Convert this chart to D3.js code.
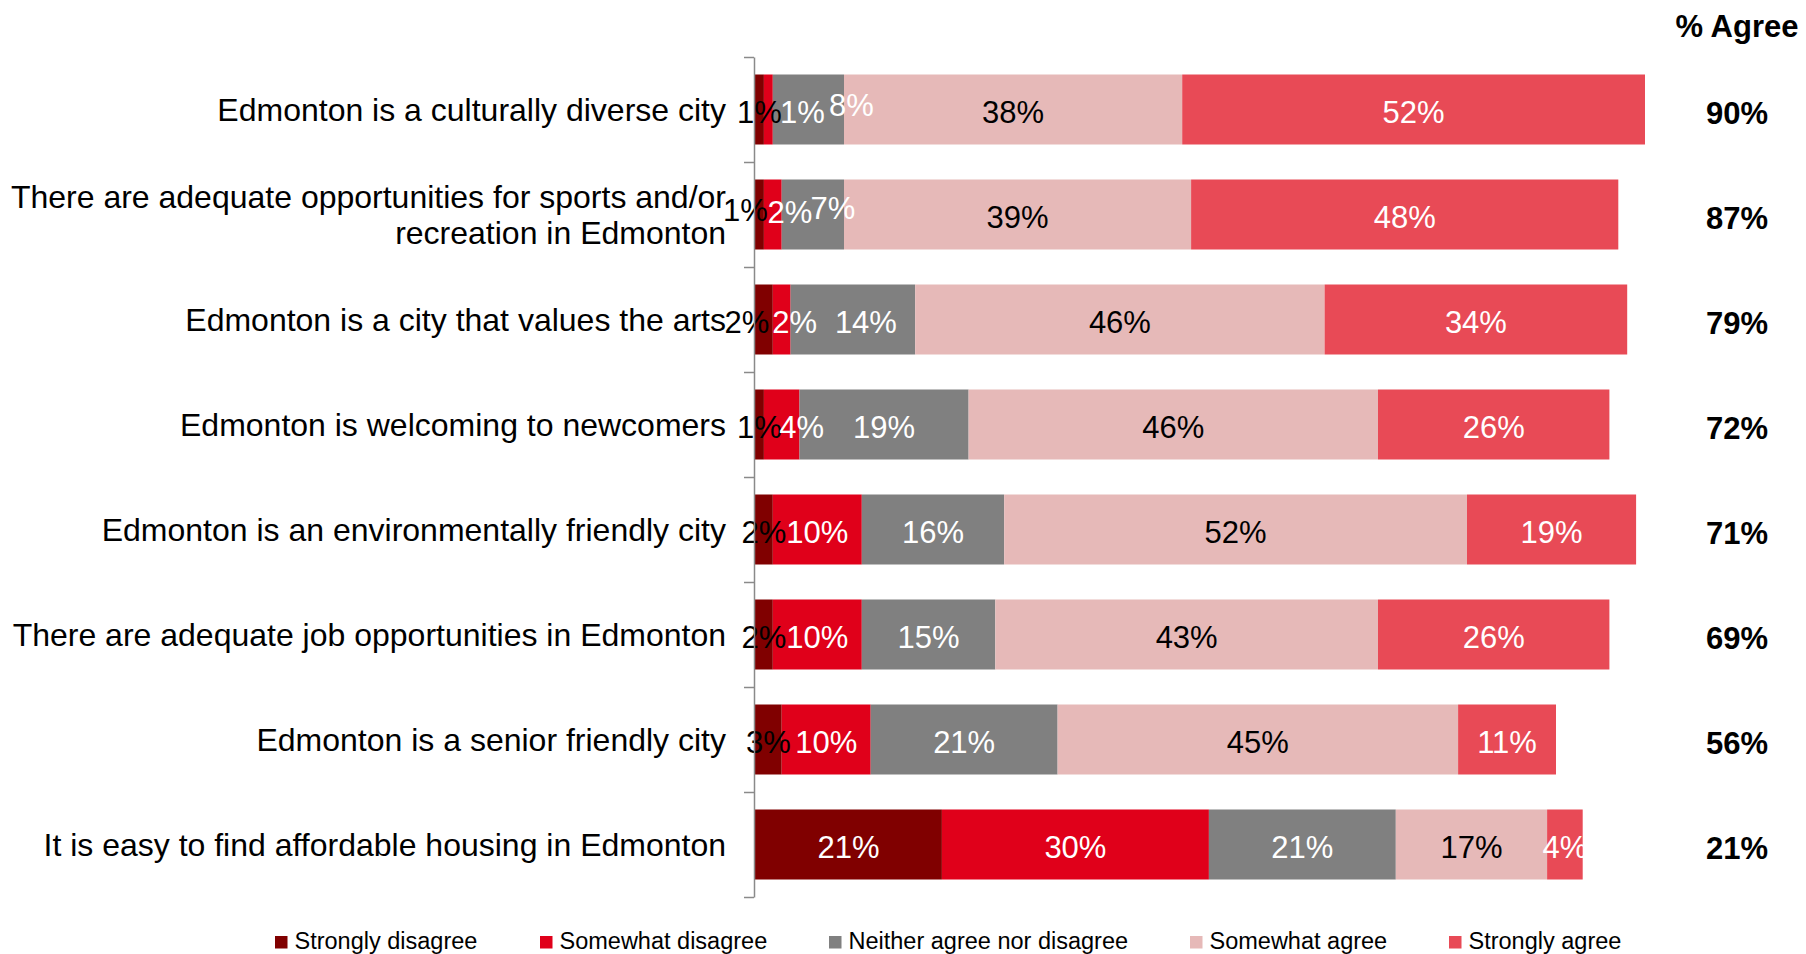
<!DOCTYPE html>
<html>
<head>
<meta charset="utf-8">
<script src="https://cdn.jsdelivr.net/npm/d3@7"></script>
<style>
  html, body { margin: 0; padding: 0; background: #fff; }
  svg { display: block; font-family: "Liberation Sans", Arial, Helvetica, sans-serif; }
</style>
</head>
<body>
<svg id="chart" width="1806" height="954"></svg>
<script>
// ---------- data ----------
const categories = [
  "Edmonton is a culturally diverse city",
  "There are adequate opportunities for sports and/or\nrecreation in Edmonton",
  "Edmonton is a city that values the arts",
  "Edmonton is welcoming to newcomers",
  "Edmonton is an environmentally friendly city",
  "There are adequate job opportunities in Edmonton",
  "Edmonton is a senior friendly city",
  "It is easy to find affordable housing in Edmonton"
];
const seriesNames = ["Strongly disagree", "Somewhat disagree", "Neither agree nor disagree", "Somewhat agree", "Strongly agree"];
const stronglyDisagree = [1, 1, 2, 1, 2, 2, 3, 21];
const somewhatDisagree = [1, 2, 2, 4, 10, 10, 10, 30];
const neitherAgree     = [8, 7, 14, 19, 16, 15, 21, 21];
const somewhatAgree    = [38, 39, 46, 46, 52, 43, 45, 17];
const stronglyAgree    = [52, 48, 34, 26, 19, 26, 11, 4];
const percentAgree     = [90, 87, 79, 72, 71, 69, 56, 21];
const agreeHeader = "% Agree";

// ---------- styles ----------
const colors = ["#800000", "#E0001A", "#808080", "#E6B9B8", "#E84A56"];
const labelColors = ["#000", "#fff", "#fff", "#000", "#fff"];
// manual label nudges, as in the original (row-seriesIndex)
const labelNudges = {
  "0-1": {dx: 34, dy: 0}, "0-2": {dx: 43, dy: -6.5},
  "1-0": {dx: -14, dy: -7}, "1-1": {dx: 17, dy: -5}, "1-2": {dx: 20, dy: -8.5},
  "2-0": {dx: -17, dy: 0}, "2-1": {dx: 13, dy: 0}, "2-2": {dx: 13, dy: 0},
  "3-1": {dx: 20, dy: 0}
};

const seriesArrays = [stronglyDisagree, somewhatDisagree, neitherAgree, somewhatAgree, stronglyAgree];
const rows = categories.map((c, i) => {
  const r = {category: c, idx: i};
  seriesNames.forEach((s, j) => r[s] = seriesArrays[j][i]);
  return r;
});

const svg = d3.select("#chart");
svg.append("rect").attr("width", 1806).attr("height", 954).attr("fill", "#fff");

const axisX = 754;
const x = d3.scaleLinear().domain([0, 100]).range([755, 1645]);
const y = d3.scaleBand().domain(categories).range([57, 897]).paddingInner(1/3).paddingOuter(1/6);
const boundary = d3.scaleLinear().domain([0, categories.length]).range([57, 897]);

const stack = d3.stack().keys(seriesNames);
const stacked = stack(rows);

// bars
const layers = svg.append("g").selectAll("g").data(stacked).join("g")
  .attr("fill", (d, i) => colors[i]);
layers.selectAll("rect").data(d => d).join("rect")
  .attr("x", d => x(d[0]))
  .attr("y", d => y(d.data.category))
  .attr("width", d => x(d[1]) - x(d[0]))
  .attr("height", y.bandwidth());

// data labels
const fs = 31;
stacked.forEach((layer, si) => {
  svg.append("g").selectAll("text").data(layer).join("text")
    .attr("x", d => {
      const n = labelNudges[d.data.idx + "-" + si];
      return (x(d[0]) + x(d[1])) / 2 + (n ? n.dx : 0);
    })
    .attr("y", d => {
      const n = labelNudges[d.data.idx + "-" + si];
      return y(d.data.category) + y.bandwidth() / 2 + 13 + (n ? n.dy : 0);
    })
    .attr("text-anchor", "middle")
    .attr("font-size", fs)
    .attr("fill", d => (si === 0 && (d[1] - d[0]) >= 10) ? "#fff" : labelColors[si])
    .text(d => d3.format(".0f")(d[1] - d[0]) + "%");
});

// axis (ticks at category boundaries)
const axis = d3.axisLeft(boundary).ticks(categories.length).tickSize(10).tickSizeOuter(0).tickFormat("");
const ag = svg.append("g").attr("transform", `translate(${axisX},0)`).call(axis);
ag.select(".domain").attr("stroke", "#8a8a8a").attr("stroke-width", 1.5);
ag.selectAll(".tick line").attr("stroke", "#8a8a8a").attr("stroke-width", 1.5);

// category labels
const catG = svg.append("g");
categories.forEach(c => {
  const lines = c.split("\n");
  const cy = y(c) + y.bandwidth() / 2;
  const lh = 36;
  const t = catG.append("text")
    .attr("text-anchor", "end")
    .attr("font-size", 32)
    .attr("fill", "#000");
  lines.forEach((ln, k) => {
    t.append("tspan")
      .attr("x", 726)
      .attr("y", cy + 11 + (k - (lines.length - 1) / 2) * lh)
      .text(ln);
  });
});

// % Agree column
svg.append("text")
  .attr("x", 1737).attr("y", 37)
  .attr("text-anchor", "middle")
  .attr("font-size", 31).attr("font-weight", "bold")
  .text(agreeHeader);
svg.append("g").selectAll("text").data(percentAgree).join("text")
  .attr("x", 1737)
  .attr("y", (d, i) => y(categories[i]) + y.bandwidth() / 2 + 14)
  .attr("text-anchor", "middle")
  .attr("font-size", fs).attr("font-weight", "bold")
  .text(d => d + "%");

// legend
const legendX = [275, 540, 829, 1190, 1449];
const lg = svg.append("g").selectAll("g").data(seriesNames).join("g")
  .attr("transform", (d, i) => `translate(${legendX[i]},936)`);
lg.append("rect").attr("width", 12.5).attr("height", 12.5).attr("fill", (d, i) => colors[i]);
lg.append("text").attr("x", 19.5).attr("y", 13.3)
  .attr("font-size", 23.5).attr("fill", "#000")
  .text(d => d);
</script>
</body>
</html>
